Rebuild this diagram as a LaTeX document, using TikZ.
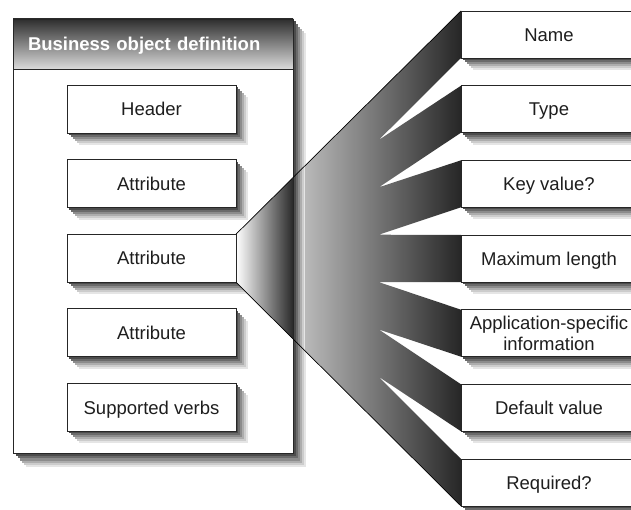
\documentclass[tikz,border=0pt]{standalone}
\usepackage{fontspec}
\setmainfont{Liberation Sans}
\usetikzlibrary{shadows}
\pgfdeclarelayer{back}
\pgfdeclarelayer{front}
\pgfsetlayers{back,main,front}
\definecolor{titletop}{HTML}{2E2E2E}
\definecolor{titlebot}{HTML}{DADADA}
\definecolor{fanAdark}{HTML}{2B2B2B}
\definecolor{fanBlight}{HTML}{B8B8B8}
\definecolor{fanBdark}{HTML}{262626}
\definecolor{ink}{HTML}{1E1E1E}
\begin{document}
\begin{tikzpicture}[x=1pt,y=-1pt,
  boxshadow/.style={
    general shadow={fill=black!10, shadow xshift=12pt, shadow yshift=-12pt},
    general shadow={fill=black!20, shadow xshift=10pt, shadow yshift=-10pt},
    general shadow={fill=black!32, shadow xshift=8pt, shadow yshift=-8pt},
    general shadow={fill=black!45, shadow xshift=6pt, shadow yshift=-6pt},
    general shadow={fill=black!58, shadow xshift=4pt, shadow yshift=-4pt},
    general shadow={fill=black!70, shadow xshift=2pt, shadow yshift=-2pt}},
  bigshadow/.style={
    general shadow={fill=black!10, shadow xshift=13pt, shadow yshift=-14pt},
    general shadow={fill=black!20, shadow xshift=11pt, shadow yshift=-12pt},
    general shadow={fill=black!32, shadow xshift=9pt, shadow yshift=-10pt},
    general shadow={fill=black!45, shadow xshift=7pt, shadow yshift=-8pt},
    general shadow={fill=black!58, shadow xshift=5pt, shadow yshift=-5pt},
    general shadow={fill=black!70, shadow xshift=2.5pt, shadow yshift=-2.5pt}},
  box/.style={draw=black!85, line width=0.8pt, fill=white, inner sep=0pt,
    outer sep=0pt, font=\fontsize{18.5}{20.5}\selectfont, text=ink},
  innerbox/.style={box, boxshadow, minimum width=169, minimum height=48,
    text height=13.3pt, text depth=0pt},
  rbox/.style={box, boxshadow, minimum width=176, minimum height=47},
  rsingle/.style={rbox, text height=13.3pt, text depth=0pt},
  outerbox/.style={draw=black!85, line width=0.8pt, fill=white, inner sep=0pt,
    outer sep=0pt, bigshadow, minimum width=280, minimum height=434},
  titleband/.style={draw=black!85, line width=0.8pt, top color=titletop,
    bottom color=titlebot, minimum width=280, minimum height=50, inner sep=0pt,
    outer sep=0pt, text width=250pt, align=left,
    font=\fontsize{18.5}{20.5}\selectfont\bfseries, text=white,
    text height=13.3pt, text depth=0pt},
  fanedge/.style={draw=black, line width=0.7pt}
]
\useasboundingbox (0,0) rectangle (631,510);
\begin{pgfonlayer}{back}
  \node[outerbox, anchor=north west] (obj) at (13,19) {};
  \node[titleband, anchor=north west] (title) at (13,19) {Business object definition};
  \node[innerbox] (hdr) at (151.5,109) {Header};
  \node[innerbox] (a1) at (151.5,183.6) {Attribute};
  \node[innerbox] (a2) at (151.5,258.2) {Attribute};
  \node[innerbox] (a3) at (151.5,332.8) {Attribute};
  \node[innerbox] (verbs) at (151.5,407.4) {Supported verbs};
\end{pgfonlayer}
\begin{pgfonlayer}{front}
  \node[rsingle] (r0) at (549,34.5) {Name};
  \node[rsingle] (r1) at (549,109.2) {Type};
  \node[rsingle] (r2) at (549,183.8) {Key value?};
  \node[rsingle] (r3) at (549,258.5) {Maximum length};
  \node[rbox, align=center] (r4) at (549,333.2) {Application-specific\\information};
  \node[rsingle] (r5) at (549,407.8) {Default value};
  \node[rsingle] (r6) at (549,482.5) {Required?};
\end{pgfonlayer}
\begin{scope}
  \clip (a2.north east) -- (r0.north west) -- (r0.south west) -- (a2.south east) -- cycle
        (a2.north east) -- (r1.north west) -- (r1.south west) -- (a2.south east) -- cycle
        (a2.north east) -- (r2.north west) -- (r2.south west) -- (a2.south east) -- cycle
        (a2.north east) -- (r3.north west) -- (r3.south west) -- (a2.south east) -- cycle
        (a2.north east) -- (r4.north west) -- (r4.south west) -- (a2.south east) -- cycle
        (a2.north east) -- (r5.north west) -- (r5.south west) -- (a2.south east) -- cycle
        (a2.north east) -- (r6.north west) -- (r6.south west) -- (a2.south east) -- cycle;
  \shade[left color=white, right color=fanAdark] (236,0) rectangle (292.6,510);
  \shade[left color=fanBlight, right color=fanBdark] (305.5,0) rectangle (461,510);
\end{scope}
\draw[fanedge] (a2.north east) -- (r0.north west);
\draw[fanedge] (a2.south east) -- (r6.south west);
\draw[draw=black!85, line width=0.8pt] (a2.north east) -- (a2.south east);
\end{tikzpicture}
\end{document}
